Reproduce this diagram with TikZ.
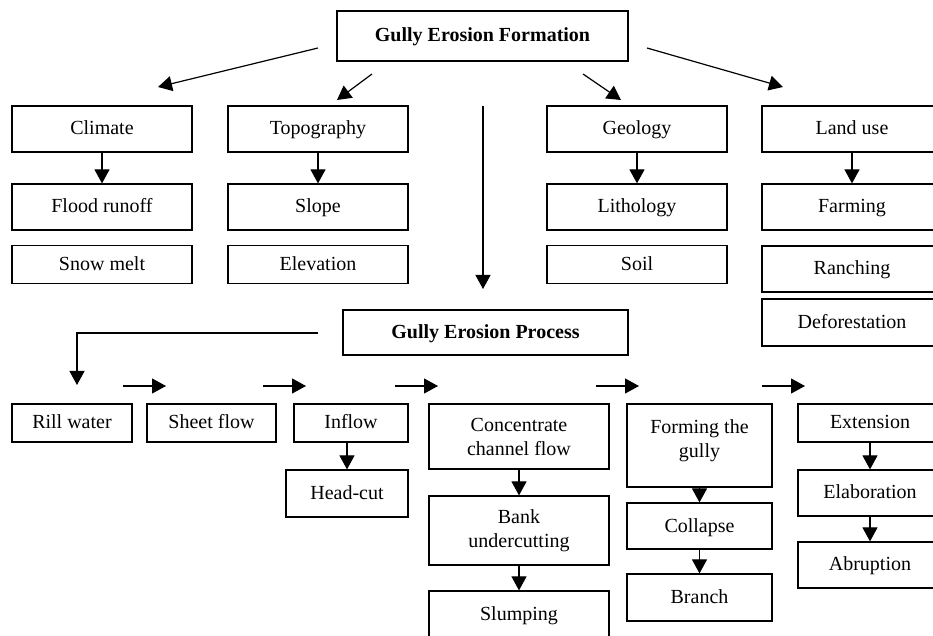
\documentclass[tikz,border=0pt]{standalone}
\usepackage{fontspec}
\setmainfont{Liberation Serif}
\usetikzlibrary{arrows.meta}

\begin{document}
\begin{tikzpicture}[x=0.5pt,y=-0.5pt,
    box/.style={draw, line width=0.6pt, inner sep=0pt, align=center, font=\fontsize{10}{12}\selectfont},
    one/.style={box, text height=7.5pt, text depth=1.5pt},
    sz/.style 2 args={minimum width=#1*0.5pt, minimum height=#2*0.5pt},
    arr/.style={line width=0.6pt, -{Triangle[length=7pt,width=7.5pt]}}]
  \useasboundingbox (0,0) rectangle (933,636);

  % formation and its four factors
  \node[one, sz={291}{50}, font=\fontsize{10}{12}\selectfont\bfseries] (form) at (482.5,36) {Gully Erosion Formation};
  \node[one, sz={180}{46}] (climate) at (102,129) {Climate};
  \node[one, sz={180}{46}] (topo) at (318,129) {Topography};
  \node[one, sz={180}{46}] (geo) at (637,129) {Geology};
  \node[one, sz={180}{46}] (land) at (852,129) {Land use};

  \node[one, sz={180}{46}] (flood) at (102,207) {Flood runoff};
  \node[one, sz={180}{37.5}] (snow) at (102,264.5) {Snow melt};
  \node[one, sz={180}{46}] (slope) at (318,207) {Slope};
  \node[one, sz={180}{37.5}] (elev) at (318,264.5) {Elevation};
  \node[one, sz={180}{46}] (lith) at (637,207) {Lithology};
  \node[one, sz={180}{37.5}] (soil) at (637,264.5) {Soil};
  \node[one, sz={180}{46}] (farm) at (852,207) {Farming};
  \node[one, sz={180}{46}] (ranch) at (852,269) {Ranching};
  \node[one, sz={180}{47}] (defor) at (852,322.5) {Deforestation};

  % process
  \node[one, sz={285}{45}, font=\fontsize{10}{12}\selectfont\bfseries] (proc) at (485.5,332.5) {Gully Erosion Process};

  \node[one, sz={120}{38}] (rill) at (72,423) {Rill water};
  \node[one, sz={129}{38}] (sheet) at (211.5,423) {Sheet flow};
  \node[one, sz={114}{38}] (inflow) at (351,423) {Inflow};
  \node[one, sz={122}{47}] (head) at (347,493.5) {Head-cut};
  \node[box, sz={180}{65}] (conc) at (519,436.5) {Concentrate\\channel flow};
  \node[box, sz={180}{69}] (bank) at (519,530.5) {Bank\\undercutting};
  \node[one, sz={180}{46}] (slump) at (519,614) {Slumping};
  \node[box, sz={145}{83}] (formg) at (699.5,445.5) {Forming the\\gully\\[-5pt]};
  \node[one, sz={145}{46}] (coll) at (699.5,526) {Collapse};
  \node[one, sz={145}{47}] (branch) at (699.5,597.5) {Branch};
  \node[one, sz={144}{38}] (ext) at (870,423) {Extension};
  \node[one, sz={144}{46}] (elab) at (870,493) {Elaboration};
  \node[one, sz={144}{46}] (abr) at (870,565) {Abruption};

  % free ends of the floating arrows
  \coordinate (f1) at (318,48);  \coordinate (t1) at (158,87);
  \coordinate (f2) at (372,74);  \coordinate (t2) at (337,100);
  \coordinate (f3) at (583,74);  \coordinate (t3) at (621,100);
  \coordinate (f4) at (647,48);  \coordinate (t4) at (783,87);
  \coordinate (fv) at (483,106); \coordinate (tv) at (483,289);
  \coordinate (fe) at (318,333); \coordinate (te) at (77,385);

  \draw[arr] (f1) -- (t1);
  \draw[arr] (f2) -- (t2);
  \draw[arr] (f3) -- (t3);
  \draw[arr] (f4) -- (t4);
  \draw[arr] (fv) -- (tv);
  \draw[arr] (fe) -| (te);

  \foreach \a/\b in {123/166, 263/306, 395/438, 596/639, 762/805} {
    \coordinate (h\a) at (\a,386);
    \coordinate (k\a) at (\b,386);
    \draw[arr] (h\a) -- (k\a);
  }

  \draw[arr] (climate) -- (flood);
  \draw[arr] (topo) -- (slope);
  \draw[arr] (geo) -- (lith);
  \draw[arr] (land) -- (farm);
  \draw[arr] (inflow.south -| head.north) -- (head.north);
  \draw[arr] (conc) -- (bank);
  \draw[arr] (bank) -- (slump);
  \draw[arr] (formg) -- (coll);
  \draw[arr] (coll) -- (branch);
  \draw[arr] (ext) -- (elab);
  \draw[arr] (elab) -- (abr);

\end{tikzpicture}
\end{document}
